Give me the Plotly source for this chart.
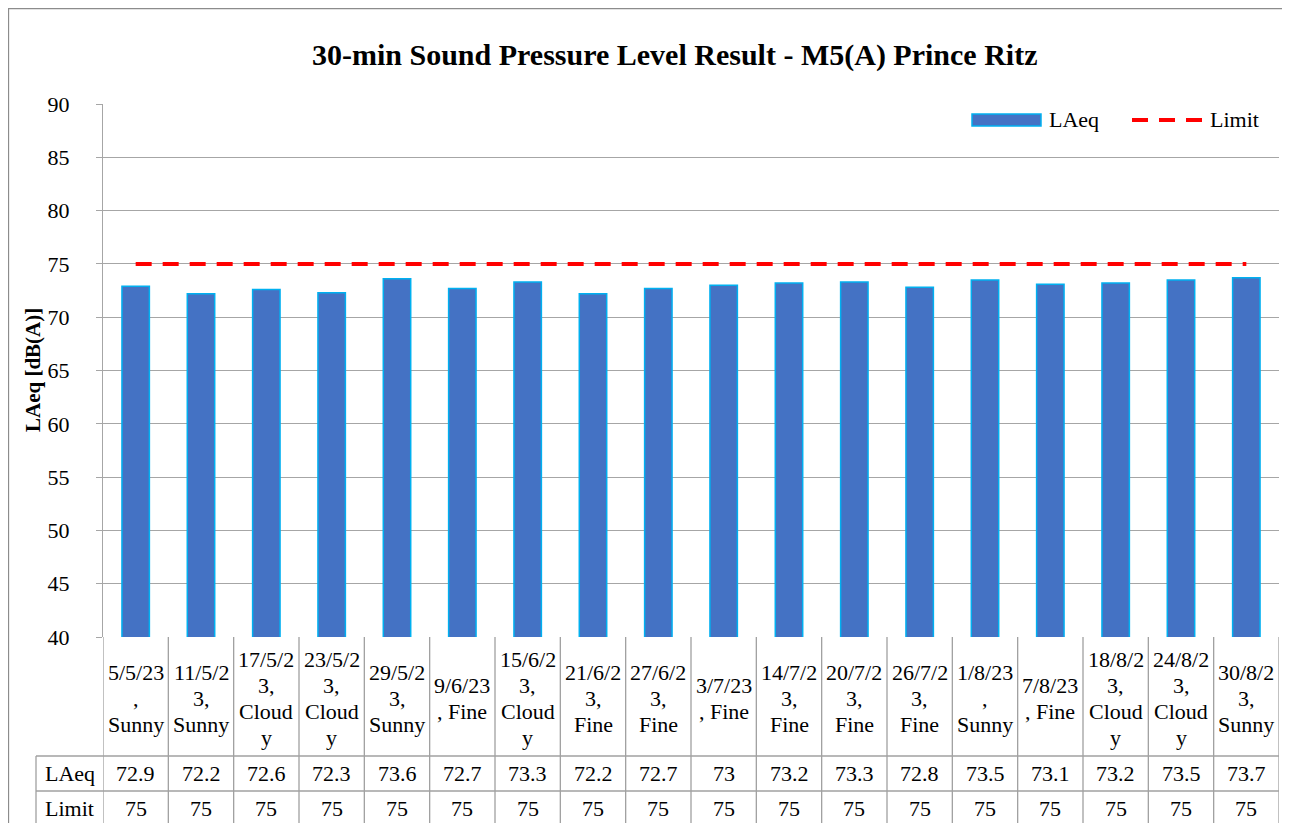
import plotly.graph_objects as go

# ---------------- data ----------------
dates = ["5/5/23", "11/5/23", "17/5/23", "23/5/23", "29/5/23", "9/6/23", "15/6/23",
         "21/6/23", "27/6/23", "3/7/23", "14/7/23", "20/7/23", "26/7/23", "1/8/23",
         "7/8/23", "18/8/23", "24/8/23", "30/8/23"]
weather = ["Sunny", "Sunny", "Cloudy", "Cloudy", "Sunny", "Fine", "Cloudy", "Fine", "Fine",
           "Fine", "Fine", "Fine", "Fine", "Sunny", "Fine", "Cloudy", "Cloudy", "Sunny"]
# category labels as wrapped in the reference table
cat_lines = [
    ["5/5/23", ",", "Sunny"],
    ["11/5/2", "3,", "Sunny"],
    ["17/5/2", "3,", "Cloud", "y"],
    ["23/5/2", "3,", "Cloud", "y"],
    ["29/5/2", "3,", "Sunny"],
    ["9/6/23", ", Fine"],
    ["15/6/2", "3,", "Cloud", "y"],
    ["21/6/2", "3,", "Fine"],
    ["27/6/2", "3,", "Fine"],
    ["3/7/23", ", Fine"],
    ["14/7/2", "3,", "Fine"],
    ["20/7/2", "3,", "Fine"],
    ["26/7/2", "3,", "Fine"],
    ["1/8/23", ",", "Sunny"],
    ["7/8/23", ", Fine"],
    ["18/8/2", "3,", "Cloud", "y"],
    ["24/8/2", "3,", "Cloud", "y"],
    ["30/8/2", "3,", "Sunny"],
]
laeq = [72.9, 72.2, 72.6, 72.3, 73.6, 72.7, 73.3, 72.2, 72.7, 73.0, 73.2, 73.3, 72.8,
        73.5, 73.1, 73.2, 73.5, 73.7]
laeq_text = ["72.9", "72.2", "72.6", "72.3", "73.6", "72.7", "73.3", "72.2", "72.7", "73",
             "73.2", "73.3", "72.8", "73.5", "73.1", "73.2", "73.5", "73.7"]
limit = [75, 75, 75, 75, 75, 75, 75, 75, 75, 75, 75, 75, 75, 75, 75, 75, 75, 75]
y_ticks = [40, 45, 50, 55, 60, 65, 70, 75, 80, 85, 90]
title_text = "30-min Sound Pressure Level Result - M5(A) Prince Ritz"
y_title = "LAeq [dB(A)]"
row_names = ["LAeq", "Limit"]

categories = [d + ", " + w for d, w in zip(dates, weather)]
n = len(categories)
xidx = list(range(n))

# ---------------- layout geometry (page pixels) ----------------
OX, OY = 8, 8
W, H = 1282, 815
PL, PR, PT, PB = 103, 1279, 104, 637
FONT = "Liberation Serif, Times New Roman, serif"
GRID = "#A6A6A6"
TABLE = "#A0A0A0"


def fx(px):
    return (px - PL) / (PR - PL)


def fy(py):
    return (PB - py) / (PB - PT)


fig = go.Figure()
fig.add_trace(go.Bar(
    x=xidx, y=laeq, name="LAeq", width=0.42,
    marker=dict(color="#4472C4", line=dict(color="#00B0F0", width=1.5)),
    showlegend=False, hoverinfo="x+y"))
fig.add_trace(go.Scatter(
    x=xidx, y=limit, name="Limit", mode="lines",
    line=dict(color="#FF0000", width=4, dash="16px,11px"), showlegend=False))

shapes = []
ann = []

# outer chart frame
shapes.append(dict(type="rect", xref="paper", yref="paper",
                   x0=fx(8.5), x1=fx(1288.5), y0=fy(8.5), y1=fy(840),
                   line=dict(color="#8C8C8C", width=1.3), layer="below"))

# table grid
row1, row2, row3 = 756, 791, 826
for k in range(n + 1):
    shapes.append(dict(type="line", xref="x", yref="paper", x0=k - 0.5, x1=k - 0.5,
                       y0=fy(PB), y1=fy(840), line=dict(color=TABLE, width=1.3)))
for yy in (row1, row2, row3):
    shapes.append(dict(type="line", xref="paper", yref="paper", x0=fx(36), x1=1,
                       y0=fy(yy), y1=fy(yy), line=dict(color=TABLE, width=1.3)))
shapes.append(dict(type="line", xref="paper", yref="paper", x0=fx(36), x1=fx(36),
                   y0=fy(row1), y1=fy(840), line=dict(color=TABLE, width=1.3)))

# category labels (line spacing as in the reference)
LS = 26
for i, lines in enumerate(cat_lines):
    m = len(lines)
    for j, t in enumerate(lines):
        cy = 698 + (j - (m - 1) / 2) * LS
        ann.append(dict(x=i, xref="x", y=fy(cy), yref="paper", text=t, showarrow=False,
                        xanchor="center", yanchor="middle",
                        font=dict(family=FONT, size=22, color="#000000")))

# table values
for i in range(n):
    ann.append(dict(x=i, xref="x", y=fy(773), yref="paper", text=laeq_text[i],
                    showarrow=False, xanchor="center", yanchor="middle",
                    font=dict(family=FONT, size=22, color="#000000")))
    ann.append(dict(x=i, xref="x", y=fy(808), yref="paper", text=str(limit[i]),
                    showarrow=False, xanchor="center", yanchor="middle",
                    font=dict(family=FONT, size=22, color="#000000")))
for r, yy in zip(row_names, (773, 808)):
    ann.append(dict(x=fx(69.5), xref="paper", y=fy(yy), yref="paper", text=r,
                    showarrow=False, xanchor="center", yanchor="middle",
                    font=dict(family=FONT, size=22, color="#000000")))

# title
ann.append(dict(x=fx(674), xref="paper", y=fy(55), yref="paper",
                text="<b>" + title_text + "</b>", showarrow=False,
                xanchor="center", yanchor="middle",
                font=dict(family=FONT, size=30, color="#000000")))
# y axis title
ann.append(dict(x=fx(33), xref="paper", y=fy(370), yref="paper",
                text="<b>" + y_title + "</b>", showarrow=False, textangle=-90,
                xanchor="center", yanchor="middle",
                font=dict(family=FONT, size=21, color="#000000")))

# manual legend
shapes.append(dict(type="rect", xref="paper", yref="paper",
                   x0=fx(972), x1=fx(1041), y0=fy(114), y1=fy(126),
                   fillcolor="#4472C4", line=dict(color="#00B0F0", width=1.5)))
ann.append(dict(x=fx(1047), xref="paper", y=fy(120), yref="paper", text="LAeq",
                showarrow=False, xanchor="left", yanchor="middle",
                font=dict(family=FONT, size=22, color="#000000")))
shapes.append(dict(type="line", xref="paper", yref="paper",
                   x0=fx(1132), x1=fx(1204), y0=fy(120), y1=fy(120),
                   line=dict(color="#FF0000", width=4, dash="16px,11px")))
ann.append(dict(x=fx(1208), xref="paper", y=fy(120), yref="paper", text="Limit",
                showarrow=False, xanchor="left", yanchor="middle",
                font=dict(family=FONT, size=22, color="#000000")))

fig.update_layout(
    width=W, height=H,
    margin=dict(l=PL - OX, r=OX + W - PR, t=PT - OY, b=OY + H - PB, pad=0),
    paper_bgcolor="white", plot_bgcolor="white",
    font=dict(family=FONT, size=22, color="#000000"),
    shapes=shapes, annotations=ann,
    xaxis=dict(range=[-0.5, n - 0.5], showticklabels=False, showgrid=False,
               zeroline=False, showline=False, ticks="", fixedrange=True),
    yaxis=dict(range=[40, 90], tickvals=y_ticks, ticktext=[str(v) for v in y_ticks],
               showgrid=True, gridcolor=GRID, gridwidth=1.3,
               zeroline=False, showline=True, linecolor=GRID, linewidth=1.3,
               ticks="outside", ticklen=6, tickcolor=GRID, tickwidth=1.3,
               ticklabelstandoff=22,
               tickfont=dict(family=FONT, size=22, color="#000000"), fixedrange=True),
)

fig.write_html("out.html")
